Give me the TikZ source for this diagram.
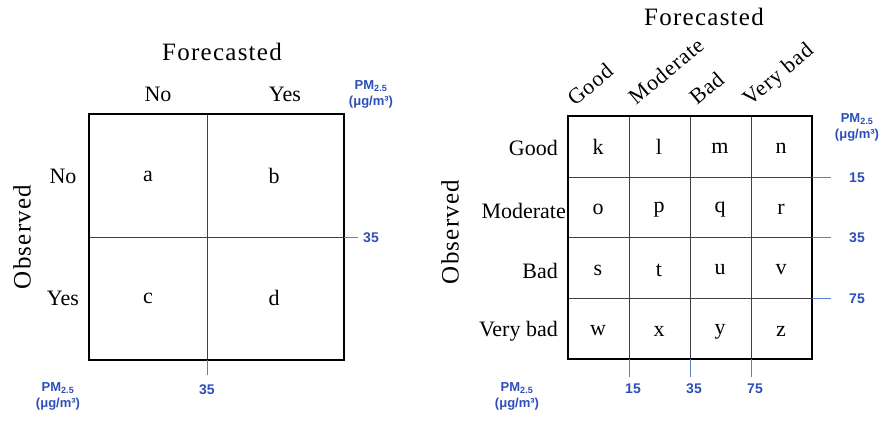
\documentclass[tikz,border=0pt]{standalone}
\usepackage{fontspec}
\setmainfont{Liberation Serif}
\setsansfont{Liberation Sans}
\definecolor{pmblue}{RGB}{45,78,185}
\definecolor{tickblue}{RGB}{95,125,205}
\begin{document}
\begin{tikzpicture}[x=1pt,y=-1pt,
  lbl/.style={font=\fontsize{22}{25}\selectfont, inner sep=0pt},
  rot/.style={font=\fontsize{22}{25}\selectfont\addfontfeatures{LetterSpace=4}, inner sep=0pt, rotate=40, anchor=base west},
  ttl/.style={font=\fontsize{25}{28}\selectfont\addfontfeatures{LetterSpace=5}, inner sep=0pt},
  pm/.style={font=\sffamily\bfseries\fontsize{14}{15}\selectfont, text=pmblue, inner sep=0pt, align=center},
  outer/.style={draw=black, line width=2.6pt},
  inner/.style={draw=black!75, line width=0.9pt},
  tick/.style={draw=tickblue, line width=1pt}]
\newcommand{\pmlab}{{\fontsize{13}{14}\selectfont PM}\textsubscript{\fontsize{9}{10}\selectfont 2.5}\\[1pt]{\fontsize{13}{14}\selectfont(μg/m³)}}
\useasboundingbox (0,0) rectangle (881,421);

% ---------- Left diagram ----------
\draw[inner] (207,114) -- (207,360);
\draw[inner] (89,237) -- (344,237);
\draw[outer] (89,114) rectangle (344,360);
\coordinate (lr) at (344,237);
\coordinate (lb) at (207,360);
\node[pm] (lrt) at (371,238) {35};
\node[pm] (lbt) at (207,390) {35};
\draw[tick] (lr) -- (358,237);
\draw[tick] (lb) -- (207,375);

\node[ttl] (lF) at (222,52) {Forecasted};
\node[ttl, rotate=90] (lO) at (22,237) {Observed};
\node[lbl] (lcN) at (158,94) {No};
\node[lbl] (lcY) at (285,94) {Yes};
\node[lbl] (lrN) at (63,176) {No};
\node[lbl] (lrY) at (63,298) {Yes};
\node[lbl] (ca) at (148,176) {a};
\node[lbl] (cb) at (274,176) {b};
\node[lbl] (cc) at (148,298) {c};
\node[lbl] (cd) at (274,298) {d};
\node[pm] (lpm1) at (371,94) {\pmlab};
\node[pm] (lpm2) at (58,396) {\pmlab};

% ---------- Right diagram ----------
\foreach \x in {629,690,751} \draw[inner] (\x,116) -- (\x,359);
\foreach \y in {177,237,298} \draw[inner] (568,\y) -- (812,\y);
\draw[outer] (568,116) rectangle (812,359);

\node[pm] (r15) at (857,178) {15};
\node[pm] (r35) at (857,238) {35};
\node[pm] (r75) at (857,299) {75};
\coordinate (rr15) at (812,177);
\coordinate (rr35) at (812,237);
\coordinate (rr75) at (812,298);
\draw[tick] (rr15) -- (831,177);
\draw[tick] (rr35) -- (831,237);
\draw[tick] (rr75) -- (831,298);

\node[pm] (b15) at (633,389) {15};
\node[pm] (b35) at (694,389) {35};
\node[pm] (b75) at (755,389) {75};
\coordinate (rb15) at (629,359);
\coordinate (rb35) at (690,359);
\coordinate (rb75) at (751,359);
\draw[tick] (rb15) -- (629,377);
\draw[tick] (rb35) -- (690,377);
\draw[tick] (rb75) -- (751,377);

\node[ttl] (rF) at (704,17) {Forecasted};
\node[ttl, rotate=90] (rO) at (450,232) {Observed};

\node[rot] (fc1) at (575,107) {Good};
\node[rot] (fc2) at (636,106) {Moderate};
\node[rot] (fc3) at (697,106) {Bad};
\node[rot] (fc4) at (750,107) {Very bad};

\node[lbl, anchor=east] (or1) at (558,148) {Good};
\node[lbl, anchor=east] (or2) at (566,211) {Moderate};
\node[lbl, anchor=east] (or3) at (558,271) {Bad};
\node[lbl, anchor=east] (or4) at (558,331) {Very bad};

\node[lbl] (ck) at (598,147) {k};
\node[lbl] (cl) at (659,147) {l};
\node[lbl] (cm) at (720,148) {m};
\node[lbl] (cn) at (781,148) {n};
\node[lbl] (co) at (598,209) {o};
\node[lbl] (cp) at (659,210) {p};
\node[lbl] (cq) at (720,210) {q};
\node[lbl] (cr) at (781,209) {r};
\node[lbl] (cs) at (598,270) {s};
\node[lbl] (ct) at (659,270) {t};
\node[lbl] (cu) at (720,270) {u};
\node[lbl] (cv) at (781,270) {v};
\node[lbl] (cw) at (598,331) {w};
\node[lbl] (cx) at (659,331) {x};
\node[lbl] (cy) at (720,332) {y};
\node[lbl] (cz) at (781,331) {z};

\node[pm] (rpm1) at (857,127) {\pmlab};
\node[pm] (rpm2) at (517,396) {\pmlab};
\end{tikzpicture}
\end{document}
